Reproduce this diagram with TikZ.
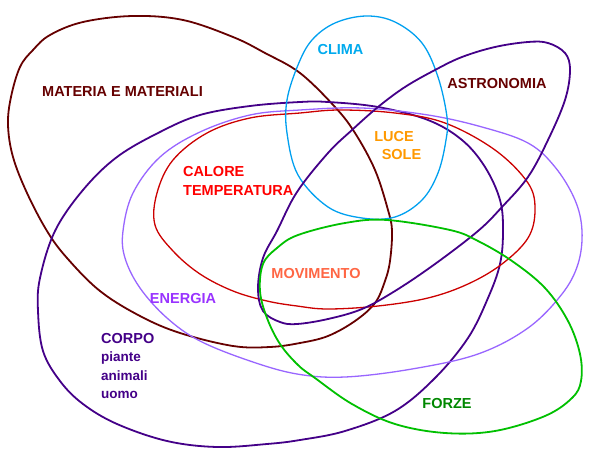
\documentclass[tikz,border=0pt]{standalone}
\usepackage{fontspec}
\setmainfont{Liberation Sans}
\definecolor{maroon}{RGB}{102,0,0}
\definecolor{indigo}{RGB}{68,0,136}
\definecolor{calred}{RGB}{204,0,0}
\definecolor{enlila}{RGB}{153,102,255}
\definecolor{climablue}{RGB}{0,160,240}
\definecolor{forzegreen}{RGB}{0,192,0}
\definecolor{txtred}{RGB}{255,0,0}
\definecolor{txtorange}{RGB}{255,153,0}
\definecolor{txtsalmon}{RGB}{255,102,68}
\definecolor{txtpurple}{RGB}{153,51,255}
\definecolor{txtblue}{RGB}{0,170,238}
\definecolor{txtgreen}{RGB}{0,136,0}
\tikzset{
  setline/.style={line width=1.8pt, line join=round},
  thinset/.style={line width=1.3pt, line join=round},
  lab/.style={font=\fontsize{14.5}{16}\selectfont\bfseries, inner sep=0pt, anchor=base},
  lablow/.style={font=\fontsize{13.5}{15}\selectfont\bfseries, inner sep=0pt, anchor=base west},
}
\begin{document}
\begin{tikzpicture}[x=1pt,y=-1pt]
\useasboundingbox (0,0) rectangle (595,463);
\fill[white] (0,0) rectangle (595,463);

% MATERIA E MATERIALI
\draw[setline, maroon] plot[smooth cycle, tension=0.6] coordinates {
 (133,16) (183,20) (233,37) (265,53) (300,73) (335,107) (355,133) (375,170)
 (388,210) (392,231) (390,261) (385,281) (375,303) (355,321) (328,336) (300,343)
 (270,347) (233,346) (180,333) (140,316) (100,291) (67,258) (47,231) (27,193)
 (13,157) (8,125) (11,97) (20,67) (33,50) (50,35) (83,22)};

% CORPO
\draw[setline, indigo] plot[smooth cycle, tension=0.6] coordinates {
 (300,102) (328,102) (378,107) (428,120) (462,140) (485,167) (500,200) (503,231)
 (500,264) (488,298) (468,338) (435,378) (395,411) (345,431) (300,440) (267,444)
 (217,447) (167,441) (117,424) (83,404) (60,381) (43,351) (38,311) (40,278)
 (55,231) (83,190) (117,157) (160,132) (200,115) (250,106)};

% ENERGIA
\draw[thinset, enlila] plot[smooth cycle, tension=0.6] coordinates {
 (300,110) (362,108) (428,115) (482,127) (528,143) (555,167) (575,200) (582,231)
 (578,264) (562,294) (528,328) (478,354) (412,369) (345,377) (297,374) (250,361)
 (200,341) (167,318) (140,288) (125,258) (123,231) (133,193) (160,157) (200,132)
 (250,115)};

% CALORE TEMPERATURA
\draw[thinset, calred] plot[smooth cycle, tension=0.6] coordinates {
 (300,113) (340,110) (395,113) (445,123) (495,150) (528,183) (535,210) (528,238)
 (502,264) (468,284) (428,298) (378,306) (328,309) (297,306) (267,301) (233,291)
 (200,274) (173,251) (155,225) (157,193) (173,160) (207,133) (250,118)};

% CLIMA
\draw[thinset, climablue] plot[smooth cycle, tension=0.6] coordinates {
 (366,16) (395,22) (422,43) (438,77) (447,117) (446,140) (438,173) (422,200)
 (395,217) (362,218) (328,207) (298,175) (287,133) (287,100) (298,65) (312,40)
 (335,23)};

% ASTRONOMIA
\draw[setline, indigo] plot[smooth cycle, tension=0.6] coordinates {
 (528,42) (548,43) (565,53) (570,70) (565,100) (548,140) (528,177) (502,207)
 (478,231) (435,264) (395,291) (362,309) (328,319) (297,324) (280,322) (263,311)
 (258,288) (263,258) (277,231) (297,192) (328,153) (352,130) (378,107) (405,87)
 (435,70) (462,57) (495,47)};

% FORZE
\draw[setline, forzegreen] plot[smooth cycle, tension=0.6] coordinates {
 (387,220) (450,230) (478,241) (512,261) (545,288) (568,321) (580,354) (581,381)
 (572,398) (545,416) (495,431) (445,433) (395,424) (352,404) (315,378) (298,365)
 (280,344) (267,318) (260,291) (263,264) (277,248) (298,235) (345,223)};

% labels
\node[lab, text=maroon] (mat) at (122.5,96) {MATERIA E MATERIALI};
\node[lab, text=txtblue] (cli) at (340.5,54) {CLIMA};
\node[lab, text=maroon] (ast) at (497,88) {ASTRONOMIA};
\node[lab, text=txtorange] (luc) at (394,141) {LUCE};
\node[lab, text=txtorange] (sol) at (401.5,159) {SOLE};
\node[lab, text=txtred, anchor=base west] (cal) at (183,176) {CALORE};
\node[lab, text=txtred, anchor=base west] (tem) at (183,195) {TEMPERATURA};
\node[lab, text=txtsalmon] (mov) at (316,278) {MOVIMENTO};
\node[lab, text=txtpurple] (ene) at (183,303) {ENERGIA};
\node[lab, text=indigo, anchor=base west] (cor) at (101,343) {CORPO};
\node[lablow, text=indigo] (pia) at (101,361) {piante};
\node[lablow, text=indigo] (ani) at (101,380) {animali};
\node[lablow, text=indigo] (uom) at (101,398) {uomo};
\node[lab, text=txtgreen] (for) at (447,408) {FORZE};
\end{tikzpicture}
\end{document}
